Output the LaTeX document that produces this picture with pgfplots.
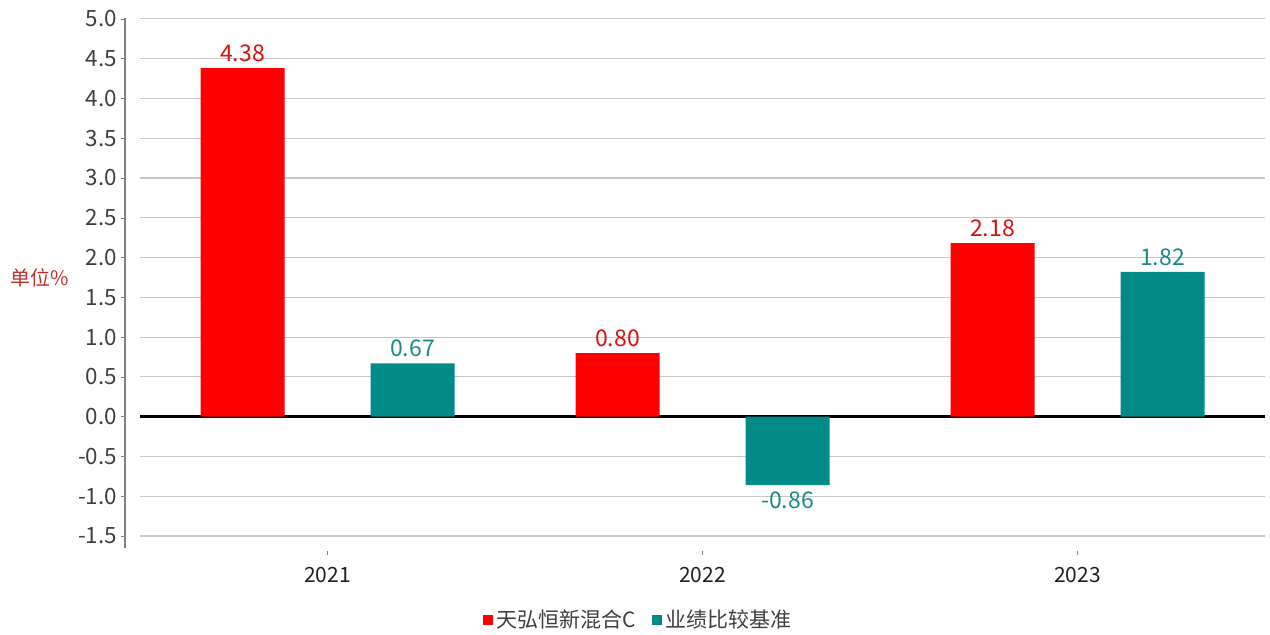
\documentclass[border=0pt]{standalone}
\usepackage{pgfplots}
\pgfplotsset{compat=1.18}
\usepackage{fontspec}
\setmainfont{Noto Sans CJK SC}

\definecolor{barred}{HTML}{FF0000}
\definecolor{barteal}{HTML}{008B86}
\definecolor{lblred}{HTML}{D81010}
\definecolor{lblteal}{HTML}{1A8A88}
\definecolor{unitred}{HTML}{C0302C}
\definecolor{ticktext}{HTML}{404040}
\definecolor{gridgray}{HTML}{C8C8C8}

\begin{document}
\begin{tikzpicture}
\useasboundingbox (0,0) rectangle (635pt,317.5pt);
\begin{axis}[
    at={(70pt,43.5pt)}, anchor=south west,
    scale only axis,
    width=562.5pt, height=265pt,
    ybar=43pt, bar width=42pt,
    xmin=-0.5, xmax=2.5,
    ymin=-1.65, ymax=5.01,
    xtick={0,1,2},
    xticklabels={2021,2022,2023},
    ytick={-1.5,-1,...,5},
    ymajorgrids=true,
    grid style={gridgray, line width=0.6pt},
    extra y ticks={0},
    extra y tick labels={},
    extra y tick style={grid style={black, line width=1.2pt}, major tick length=0pt},
    axis line style={draw=none},
    tick pos=left,
    tick align=outside,
    major tick length=2pt,
    ytick style={draw=gray, xshift=-7.5pt},
    xtick style={draw=gray, yshift=-1.5pt},
    clip=false,
    /pgf/number format/assume math mode=true,
    yticklabel style={/pgf/number format/fixed, /pgf/number format/fixed zerofill,
        /pgf/number format/precision=1, font=\fontsize{11.2}{13}\selectfont,
        text=ticktext, xshift=-6pt},
    xticklabel style={font=\fontsize{10.5}{12}\selectfont, text=black!88, yshift=-4pt},
    ylabel={单位\%},
    ylabel style={at={(axis description cs:-0.089,0.509)}, rotate=-90, anchor=center,
        font=\fontsize{10}{12}\selectfont, text=unitred},
    nodes near coords,
    nodes near coords align={vertical},
    nodes near coords style={font=\fontsize{11.5}{13}\selectfont,
        /pgf/number format/fixed, /pgf/number format/fixed zerofill,
        /pgf/number format/precision=2, inner sep=3pt},
    legend style={at={(axis description cs:0.444,-0.136)}, anchor=center,
        draw=none, legend columns=2, font=\fontsize{10.5}{12}\selectfont,
        text=ticktext, /tikz/every even column/.append style={column sep=6pt}},
    legend image code/.code={\fill[#1] (0pt,-2.4pt) rectangle (4.8pt,2.4pt);},
]
\addplot[fill=barred, draw=none, nodes near coords style={text=lblred}] coordinates {
    (0, 4.38)
    (1, 0.80)
    (2, 2.18)
};
\addplot[fill=barteal, draw=none, nodes near coords style={text=lblteal}] coordinates {
    (0, 0.67)
    (1, -0.86)
    (2, 1.82)
};
\legend{天弘恒新混合C, 业绩比较基准}
\draw[gray, line width=0.6pt] ([xshift=-7.5pt]rel axis cs:0,0) -- ([xshift=-7.5pt]rel axis cs:0,1);
\end{axis}
\end{tikzpicture}
\end{document}
